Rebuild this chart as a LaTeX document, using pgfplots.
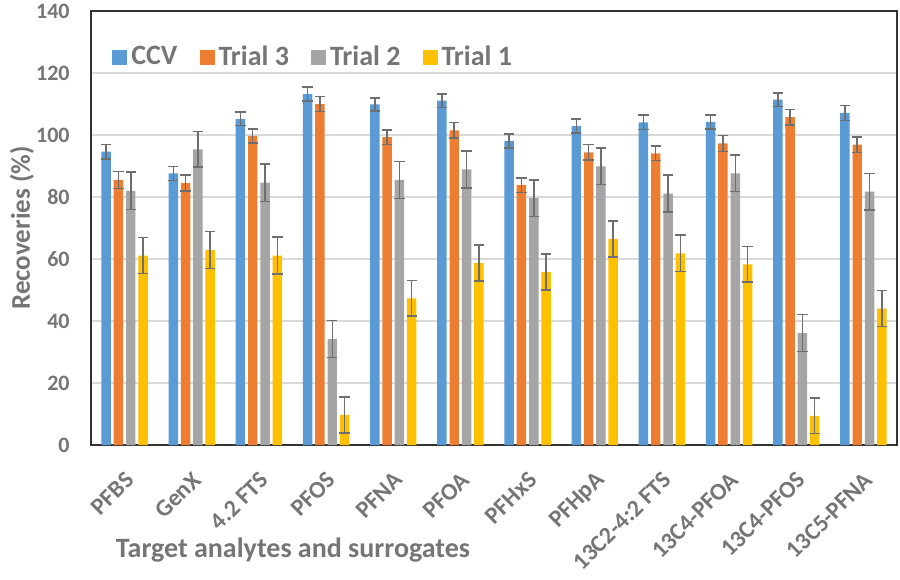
\documentclass[border=0pt]{standalone}
\usepackage{fontspec}
\setmainfont{Carlito}
\usepackage{xcolor}
\usepackage{pgfplots}
\pgfplotsset{compat=1.18}
\definecolor{ccv}{HTML}{5B9BD5}
\definecolor{tr3}{HTML}{ED7D31}
\definecolor{tr2}{HTML}{A5A5A5}
\definecolor{tr1}{HTML}{FFC000}
\definecolor{txt}{HTML}{757575}
\definecolor{errc}{HTML}{6E6E6E}
\definecolor{gridc}{HTML}{D9D9D9}

\begin{document}
\begin{tikzpicture}
\begin{axis}[
  scale only axis, width=403pt, height=217pt,
  ybar, bar width=0.141,
  xmin=-0.5, xmax=11.5, ymin=0, ymax=140,
  xtick={0,...,11},
  xticklabels={PFBS,GenX,4.2 FTS,PFOS,PFNA,PFOA,PFHxS,PFHpA,13C2-4:2 FTS,13C4-PFOA,13C4-PFOS,13C5-PFNA},
  ytick={0,20,...,140},
  major tick length=0pt,
  ymajorgrids, grid style={gridc, line width=0.75pt},
  axis line style={black!80, line width=1pt},
  /pgf/number format/assume math mode=true,
  yticklabel style={font=\fontsize{11}{13}\selectfont\bfseries, text=txt, anchor=east, inner sep=0pt, xshift=-10.5pt},
  % shifts act in the rotated frame of the label
  xticklabel style={font=\fontsize{12}{14}\selectfont\bfseries, text=txt, rotate=45, anchor=north east, inner sep=0pt, xshift=-9pt, yshift=-8.7pt},
  xlabel={Target analytes and surrogates},
  xlabel style={font=\fontsize{14}{16}\selectfont\bfseries, text=txt, at={(rel axis cs:0.2506,0)}, anchor=center, yshift=-52.5pt},
  ylabel={Recoveries (\%)},
  ylabel style={font=\fontsize{13.5}{16}\selectfont\bfseries, text=txt, at={(rel axis cs:0,0.5)}, anchor=center, yshift=34.5pt},
  legend columns=4,
  legend style={at={(rel axis cs:0.026,0.894)}, anchor=west, draw=none, fill=none, inner sep=0pt,
    font=\fontsize{14}{16}\selectfont\bfseries, text=txt,
    /tikz/every even column/.append style={column sep=9pt}},
  legend image code/.code={\fill[#1,draw=none] (0pt,-3.75pt) rectangle (7.5pt,3.75pt);},
  error bars/y dir=both, error bars/y explicit,
  error bars/error bar style={errc, line width=0.75pt},
  error bars/error mark options={errc, line width=0.75pt, mark size=2.6pt, rotate=90},
]
\addplot[fill=ccv, draw=none, bar shift=-0.275] coordinates {
(0,94.6) +- (0,2.4) (1,87.6) +- (0,2.2) (2,105.2) +- (0,2.2) (3,113.2) +- (0,2.3)
(4,109.9) +- (0,2.1) (5,111.1) +- (0,2.2) (6,98.1) +- (0,2.3) (7,102.9) +- (0,2.3)
(8,104.1) +- (0,2.4) (9,104.2) +- (0,2.3) (10,111.4) +- (0,2.2) (11,107.1) +- (0,2.4)
};
\addlegendentry{CCV}
\addplot[fill=tr3, draw=none, bar shift=-0.092] coordinates {
(0,85.5) +- (0,2.7) (1,84.5) +- (0,2.6) (2,99.7) +- (0,2.3) (3,110.0) +- (0,2.4)
(4,99.3) +- (0,2.3) (5,101.5) +- (0,2.5) (6,83.8) +- (0,2.4) (7,94.4) +- (0,2.5)
(8,94.1) +- (0,2.4) (9,97.3) +- (0,2.6) (10,105.8) +- (0,2.5) (11,96.9) +- (0,2.5)
};
\addlegendentry{Trial 3}
\addplot[fill=tr2, draw=none, bar shift=0.092] coordinates {
(0,82.0) +- (0,6.0) (1,95.4) +- (0,5.8) (2,84.6) +- (0,6.0) (3,34.2) +- (0,5.9)
(4,85.5) +- (0,6.0) (5,88.9) +- (0,6.0) (6,79.6) +- (0,5.9) (7,89.9) +- (0,5.9)
(8,81.1) +- (0,6.0) (9,87.6) +- (0,5.9) (10,36.1) +- (0,6.0) (11,81.7) +- (0,5.9)
};
\addlegendentry{Trial 2}
\addplot[fill=tr1, draw=none, bar shift=0.275] coordinates {
(0,61.1) +- (0,5.8) (1,62.9) +- (0,5.9) (2,61.1) +- (0,6.0) (3,9.7) +- (0,5.8)
(4,47.3) +- (0,5.7) (5,58.7) +- (0,5.8) (6,55.8) +- (0,5.8) (7,66.5) +- (0,5.8)
(8,61.8) +- (0,5.9) (9,58.3) +- (0,5.7) (10,9.4) +- (0,5.7) (11,44.0) +- (0,5.8)
};
\addlegendentry{Trial 1}
\end{axis}
\pgfresetboundingbox
\path ([shift={(-45.5pt,-67pt)}]current axis.south west) rectangle ([shift={(1.5pt,5.5pt)}]current axis.north east);
\end{tikzpicture}
\end{document}
